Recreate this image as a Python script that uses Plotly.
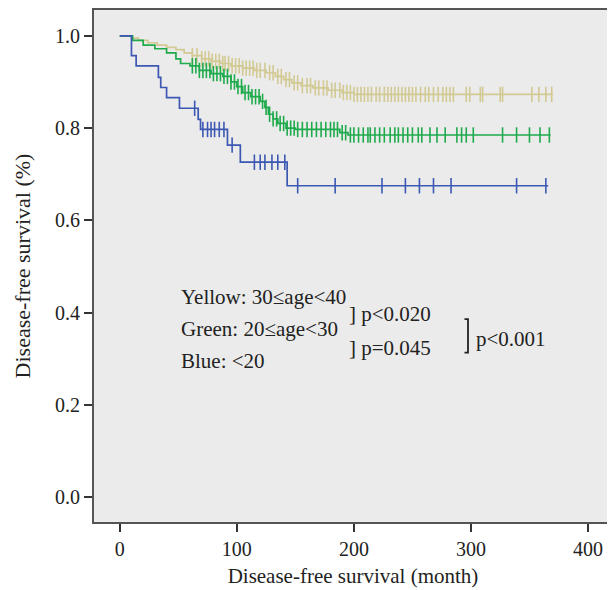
import numpy as np
import plotly.graph_objects as go

# Kaplan-Meier step data (months, survival)
yellow_times = [0, 10, 16, 24, 32, 40, 48, 55, 62, 70, 78, 86, 95, 105, 115, 125, 133, 140, 147, 155, 165, 178, 190, 200]
yellow_surv = [1.0, 0.995, 0.99, 0.985, 0.98, 0.975, 0.97, 0.963, 0.957, 0.95, 0.945, 0.94, 0.935, 0.93, 0.925, 0.92, 0.912, 0.905, 0.898, 0.892, 0.887, 0.882, 0.877, 0.873]
yellow_end = 370
yellow_censor = [62, 66, 70, 73, 76, 79, 82, 85, 88, 90, 93, 96, 99, 102, 105, 108, 111, 114, 117, 120, 124, 128, 131, 135,
                 138, 142, 145, 149, 152, 156, 160, 163, 167, 170, 174, 177, 181, 184, 188, 191, 194, 197, 200, 203, 206,
                 209, 212, 215, 219, 222, 226, 229, 232, 235, 238, 241, 244, 247, 250, 253, 257, 261, 264, 268, 272, 276,
                 279, 282, 285, 296, 299, 308, 310, 325, 327, 352, 358, 364, 369]

green_times = [0, 11, 20, 30, 40, 48, 52, 60, 68, 78, 88, 95, 100, 105, 112, 120, 124, 127, 131, 135, 142, 150, 188, 195]
green_surv = [1.0, 0.99, 0.98, 0.972, 0.963, 0.95, 0.94, 0.935, 0.925, 0.918, 0.912, 0.9, 0.89, 0.877, 0.868, 0.858, 0.845, 0.83, 0.82, 0.81, 0.8, 0.797, 0.79, 0.785]
green_end = 368
green_censor = [62, 65, 68, 71, 74, 77, 80, 83, 86, 89, 92, 95, 98, 101, 104, 107, 110, 113, 116, 119, 122, 125, 128, 131,
                134, 137, 140, 143, 146, 149, 152, 156, 160, 164, 168, 172, 176, 180, 183, 186, 190, 193, 197, 200, 204,
                208, 212, 214, 218, 222, 226, 231, 235, 238, 242, 246, 250, 255, 258, 265, 271, 278, 288, 292, 296, 302,
                327, 339, 350, 359, 367]

blue_times = [0, 10, 14, 33, 35, 40, 51, 67, 69, 92, 103, 143]
blue_surv = [1.0, 0.957, 0.935, 0.91, 0.888, 0.866, 0.843, 0.819, 0.797, 0.763, 0.726, 0.675]
blue_end = 366
blue_censor = [64, 71, 75, 78, 81, 85, 89, 96, 115, 120, 124, 130, 135, 141, 152, 184, 224, 244, 256, 268, 283, 339, 364]

x_ticks = [0, 100, 200, 300, 400]
y_ticks = [0.0, 0.2, 0.4, 0.6, 0.8, 1.0]

label_texts = ["Yellow: 30≤age<40", "Green: 20≤age<30", "Blue: <20"]
p_texts = ["] p<0.020", "] p=0.045"]
p_all = "p<0.001"

colors = {"yellow": "#d2c993", "green": "#1faa4c", "blue": "#3d58b3"}

FONT = "Liberation Serif, DejaVu Serif, serif"

fig = go.Figure()


def add_group(times, surv, end, censor, color):
    xs = list(times) + [end]
    ys = list(surv) + [surv[-1]]
    fig.add_trace(go.Scatter(x=xs, y=ys, mode="lines", line=dict(color=color, width=1.7, shape="hv"),
                             hoverinfo="skip", showlegend=False))
    idx = np.searchsorted(np.array(times), np.array(censor), side="right") - 1
    cy = [surv[i] for i in idx]
    fig.add_trace(go.Scatter(x=censor, y=cy, mode="markers",
                             marker=dict(symbol="line-ns", size=11, line=dict(color=color, width=1.6)),
                             hoverinfo="skip", showlegend=False))


add_group(yellow_times, yellow_surv, yellow_end, yellow_censor, colors["yellow"])
add_group(green_times, green_surv, green_end, green_censor, colors["green"])
add_group(blue_times, blue_surv, blue_end, blue_censor, colors["blue"])

annot_font = dict(family=FONT, size=21, color="#222")
for txt, yy in zip(label_texts, [0.433, 0.364, 0.295]):
    fig.add_annotation(x=51, y=yy, text=txt, showarrow=False, xanchor="left", yanchor="middle", font=annot_font)
for txt, yy in zip(p_texts, [0.397, 0.323]):
    fig.add_annotation(x=194, y=yy, text=txt, showarrow=False, xanchor="left", yanchor="middle", font=annot_font)
fig.add_annotation(x=303, y=0.343, text=p_all, showarrow=False, xanchor="left", yanchor="middle", font=annot_font)

# big bracket
fig.add_shape(type="path", path="M 294.5 0.386 L 297.5 0.386 L 297.5 0.313 L 294.5 0.313",
              line=dict(color="#222", width=1.8))

# page body has an 8px default margin, so margins are reduced accordingly
fig.update_layout(
    width=615, height=590,
    margin=dict(l=86, r=11, t=0, b=76),
    paper_bgcolor="white", plot_bgcolor="#ebebeb",
    font=dict(family=FONT, size=20, color="#222"),
)
fig.update_xaxes(range=[-22, 420.5], tickvals=x_ticks, ticktext=[str(v) for v in x_ticks],
                 showgrid=False, zeroline=False, showline=True, mirror=True, linecolor="#555", linewidth=2,
                 ticks="outside", ticklen=8, tickwidth=2, tickcolor="#333",
                 title=dict(text="Disease-free survival (month)", font=dict(family=FONT, size=21), standoff=9),
                 tickfont=dict(family=FONT, size=20))
fig.update_yaxes(range=[-0.054, 1.056], tickvals=y_ticks, ticktext=[f"{v:.1f}" for v in y_ticks],
                 showgrid=False, zeroline=False, showline=True, mirror=True, linecolor="#555", linewidth=2,
                 ticks="outside", ticklen=8, tickwidth=2, tickcolor="#333",
                 title=dict(text="Disease-free survival (%)", font=dict(family=FONT, size=22), standoff=18),
                 tickfont=dict(family=FONT, size=20))

fig.write_html("out.html")
